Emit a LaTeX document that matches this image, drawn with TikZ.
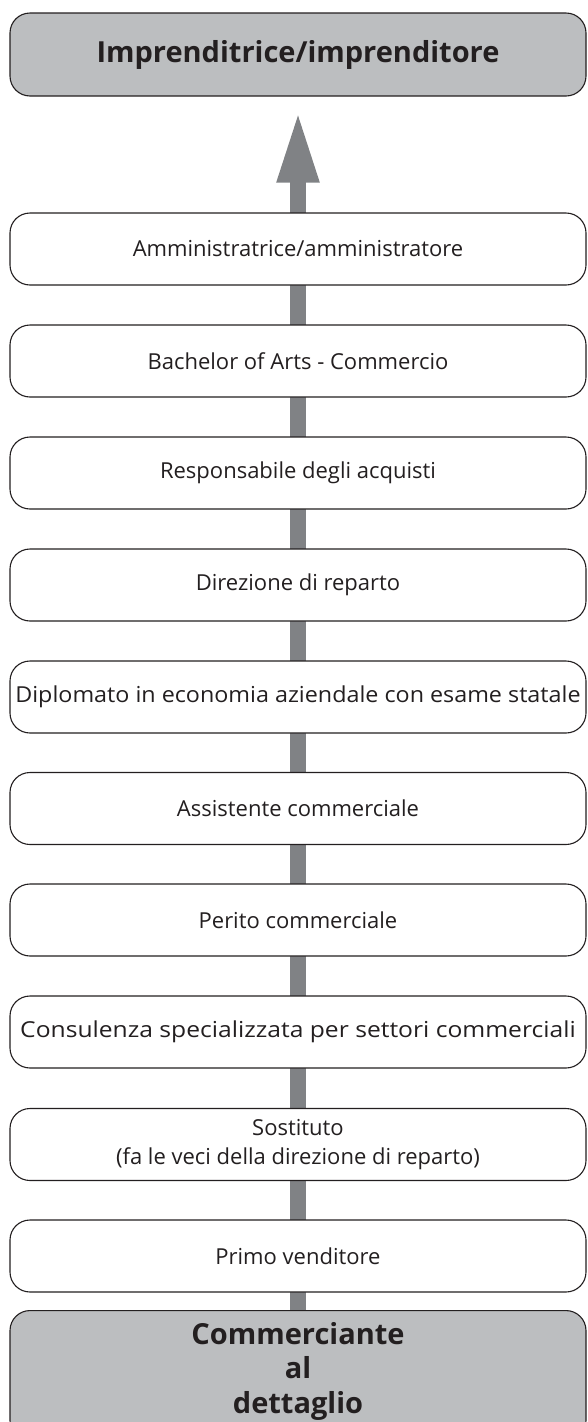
\documentclass[tikz,border=0pt]{standalone}
\usepackage{fontspec}
\setmainfont{Open Sans}
\usetikzlibrary{arrows.meta,backgrounds}
\definecolor{boxgray}{HTML}{BCBEC0}
\definecolor{arrowgray}{HTML}{808285}
\definecolor{ink}{HTML}{231F20}
\tikzset{
  x=1pt, y=-1pt,
  stage/.style={draw=ink, line width=1.1pt, rounded corners=20pt, fill=white,
    minimum width=576pt, minimum height=72pt, inner sep=0pt, align=center,
    text=ink, font=\fontsize{22}{29}\selectfont},
  endbox/.style={stage, fill=boxgray, font=\fontsize{29}{34.5}\selectfont\bfseries},
  shaft/.style={draw=arrowgray, line width=16pt, -{Triangle[length=73pt, width=38pt]}}
}
\begin{document}
\begin{tikzpicture}
\useasboundingbox (0,0) rectangle (587,1422);
\clip (0,0) rectangle (587,1422);
\node[endbox, minimum height=83pt] (top) at (298,54.5) {\raisebox{3pt}{Imprenditrice/imprenditore}};
\node[stage] (s1) at (298,249) {Amministratrice/amministratore};
\node[stage] (s2) at (298,361) {Bachelor of Arts - Commercio};
\node[stage] (s3) at (298,473) {Responsabile degli acquisti};
\node[stage] (s4) at (298,585) {Direzione di reparto};
\node[stage] (s5) at (298,697) {\scalebox{1.06}[1]{Diplomato in economia aziendale con esame statale}};
\node[stage] (s6) at (298,808.5) {Assistente commerciale};
\node[stage] (s7) at (298,920) {Perito commerciale};
\node[stage] (s8) at (298,1032) {\scalebox{1.12}[1]{Consulenza specializzata per settori commerciali}};
\node[stage] (s9) at (298,1144.5) {Sostituto\\(fa le veci della direzione di reparto)};
\node[stage] (s10) at (298,1256) {Primo venditore};
\node[endbox, minimum height=130pt, anchor=north] (bot) at (298,1310) {};
\node[font=\fontsize{29}{34.5}\selectfont\bfseries, text=ink, align=center, inner sep=0pt, anchor=north] (bottxt) at (298,1322) {Commerciante\\al\\dettaglio};
\begin{pgfonlayer}{background}
\draw[shaft] (bot.north) -- ([yshift=-13pt]top.south);
\end{pgfonlayer}
\end{tikzpicture}
\end{document}
